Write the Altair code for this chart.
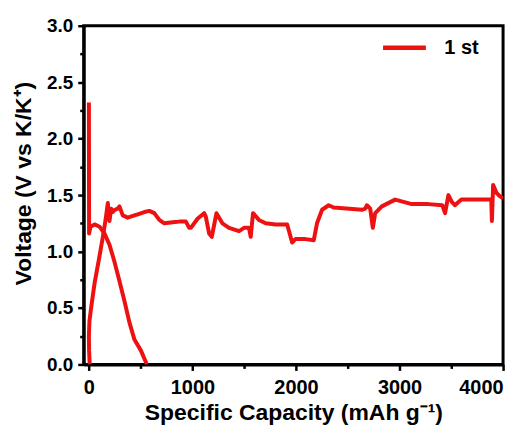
import altair as alt
import pandas as pd

# ---- data ----
discharge_cap = [0, 2, 16, 55, 103, 151, 199, 247, 295, 344, 392, 440, 504, 560]
discharge_v = [2.32, 1.16, 1.22, 1.24, 1.22, 1.16, 1.06, 0.91, 0.74, 0.56, 0.37, 0.22, 0.12, 0.0]

charge_cap = [8, 2, 0, 5, 23, 55, 97, 135, 161, 183, 199, 215, 231, 250, 279, 295, 327, 375,
              440, 472, 536, 584, 632, 680, 728, 809, 873, 937, 969, 985, 1049, 1113, 1129,
              1161, 1187, 1232, 1289, 1354, 1450, 1498, 1546, 1563, 1585, 1642, 1707, 1803,
              1915, 1963, 1995, 2091, 2172, 2203, 2252, 2316, 2364, 2637, 2669, 2685, 2717,
              2742, 2765, 2829, 2958, 3119, 3279, 3413, 3440, 3472, 3505, 3535, 3597, 3772,
              3886, 3892, 3904, 3936, 3968, 4000]
charge_v = [0.0, 0.12, 0.25, 0.38, 0.51, 0.72, 0.93, 1.13, 1.28, 1.43, 1.27, 1.38, 1.35, 1.37,
            1.38, 1.40, 1.32, 1.30, 1.32, 1.33, 1.35, 1.36, 1.34, 1.28, 1.25, 1.26, 1.265,
            1.265, 1.21, 1.21, 1.29, 1.34, 1.31, 1.16, 1.13, 1.34, 1.25, 1.21, 1.18, 1.21,
            1.21, 1.13, 1.34, 1.28, 1.25, 1.24, 1.24, 1.08, 1.11, 1.11, 1.10, 1.25, 1.37,
            1.41, 1.39, 1.37, 1.38, 1.41, 1.38, 1.21, 1.34, 1.40, 1.46, 1.42, 1.42, 1.41,
            1.34, 1.50, 1.44, 1.41, 1.46, 1.46, 1.46, 1.27, 1.59, 1.52, 1.49, 1.47]

series_name = "1 st"
x_ticks = [0, 500, 1000, 1500, 2000, 2500, 3000, 3500, 4000]
y_ticks = [0, 0.25, 0.5, 0.75, 1.0, 1.25, 1.5, 1.75, 2.0, 2.25, 2.5, 2.75, 3.0]

rows = []
for i, (c, v) in enumerate(zip(discharge_cap, discharge_v)):
    rows.append({"cap": c, "v": v, "seg": "discharge", "idx": i, "cycle": series_name})
for i, (c, v) in enumerate(zip(charge_cap, charge_v)):
    rows.append({"cap": c, "v": v, "seg": "charge", "idx": i, "cycle": series_name})
df = pd.DataFrame(rows)

FONT = "Liberation Sans"
RED = "#ee1111"

chart = alt.Chart(df).mark_line(strokeWidth=4, clip=True, strokeJoin="round").encode(
    x=alt.X("cap:Q",
            scale=alt.Scale(domain=[-50, 4000], nice=False, zero=False),
            axis=alt.Axis(
                values=x_ticks,
                title="Specific Capacity (mAh g\u207b\u00b9)",
                labelExpr="datum.value % 1000 === 0 ? format(datum.value, 'd') : ''",
                tickSize={"condition": {"test": "datum.value % 1000 === 0", "value": 6}, "value": 4},
                labelPadding=7, labelFontSize=20,
                titleY=55, titleBaseline="alphabetic",
            )),
    y=alt.Y("v:Q",
            scale=alt.Scale(domain=[0, 3], nice=False),
            axis=alt.Axis(
                values=y_ticks,
                title="Voltage (V vs K/K\u207a)",
                labelExpr="(datum.value * 2) % 1 === 0 ? format(datum.value, '.1f') : ''",
                tickSize={"condition": {"test": "(datum.value * 2) % 1 === 0", "value": 6}, "value": 4},
                labelPadding=5, labelFontSize=19,
                titleX=-60, titleY=158, titleAngle=-90,
                titleAlign="center", titleBaseline="middle",
            )),
    color=alt.Color("cycle:N", scale=alt.Scale(range=[RED]),
                    legend=alt.Legend(title=None, orient="none", legendX=298, legendY=-2,
                                      symbolType="stroke", symbolSize=1849,
                                      symbolStrokeWidth=4.5, labelOffset=16, padding=0,
                                      labelFontSize=20, labelFont=FONT, labelFontWeight="bold",
                                      labelColor="black")),
    detail="seg:N",
    order="idx:Q",
).properties(
    width=421, height=340,
    autosize=alt.AutoSizeParams(type="none"),
    padding={"left": 76, "top": 17, "right": 20, "bottom": 61},
).configure_view(
    stroke="black", strokeWidth=3,
).configure_axis(
    domainColor="black", domainWidth=3,
    tickColor="black", tickWidth=2.5,
    grid=False,
    labelFont=FONT, labelFontWeight="bold", labelColor="black",
    titleFont=FONT, titleFontSize=23, titleFontWeight="bold", titleColor="black",
)

chart.save("out.html", embed_options={"renderer": "svg", "actions": False})
